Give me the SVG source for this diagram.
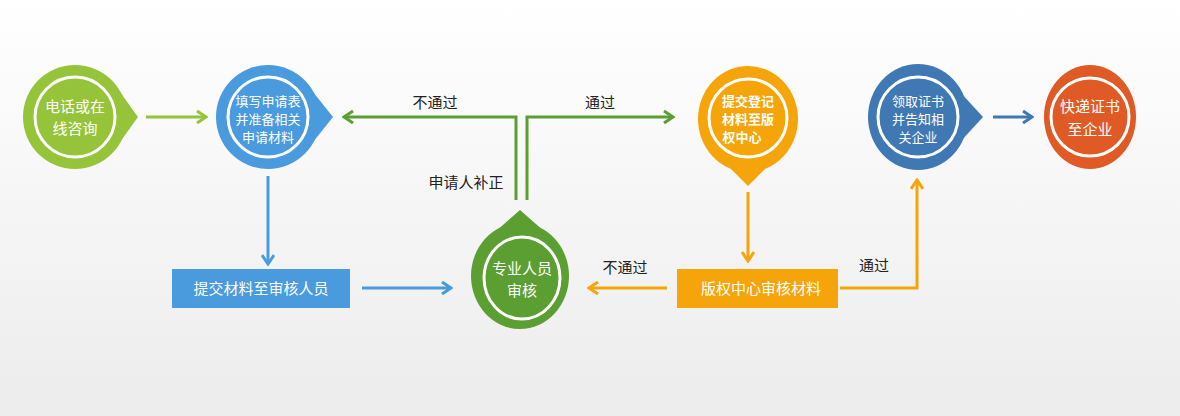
<svg xmlns="http://www.w3.org/2000/svg" width="1180" height="416" viewBox="0 0 1180 416">
<defs>
<linearGradient id="bg" x1="0" y1="0" x2="0" y2="1"><stop offset="0" stop-color="#ffffff"/><stop offset="1" stop-color="#ececec"/></linearGradient>
<marker id="mlg" markerWidth="12" markerHeight="14" refX="10" refY="7" orient="auto" markerUnits="userSpaceOnUse"><path d="M1,1 L10,7 L1,13" fill="none" stroke="#95c43a" stroke-width="3"/></marker>
<marker id="mg" markerWidth="12" markerHeight="14" refX="10" refY="7" orient="auto" markerUnits="userSpaceOnUse"><path d="M1,1 L10,7 L1,13" fill="none" stroke="#5b9e32" stroke-width="3"/></marker>
<marker id="mb" markerWidth="12" markerHeight="14" refX="10" refY="7" orient="auto" markerUnits="userSpaceOnUse"><path d="M1,1 L10,7 L1,13" fill="none" stroke="#4a9ade" stroke-width="3"/></marker>
<marker id="mo" markerWidth="12" markerHeight="14" refX="10" refY="7" orient="auto" markerUnits="userSpaceOnUse"><path d="M1,1 L10,7 L1,13" fill="none" stroke="#f5a50a" stroke-width="3"/></marker>
<marker id="md" markerWidth="12" markerHeight="14" refX="10" refY="7" orient="auto" markerUnits="userSpaceOnUse"><path d="M1,1 L10,7 L1,13" fill="none" stroke="#3f78b2" stroke-width="3"/></marker>
</defs>
<style>
.ring{fill:none;stroke:#fff;stroke-width:3}
.t{font-family:"Noto Sans CJK SC",sans-serif;fill:#fff;text-anchor:middle}
.lb{font-family:"Noto Sans CJK SC",sans-serif;fill:#222;font-size:15px;text-anchor:middle}
.c{fill:none;stroke-width:3}
</style>
<rect width="1180" height="416" fill="url(#bg)"/>
<g id="n1"><circle cx="75" cy="117" r="52" fill="#95c43a"/><path d="M120,92 L138,117 L120,142 Z" fill="#95c43a"/><circle class="ring" cx="75" cy="117" r="40"/><text class="t" font-size="15" x="75" y="112">电话或在</text><text class="t" font-size="15" x="75" y="134">线咨询</text></g>
<g id="n2"><circle cx="268" cy="117" r="52" fill="#4a9ade"/><path d="M313,92 L333,117 L313,142 Z" fill="#4a9ade"/><circle class="ring" cx="268" cy="117" r="40"/><text class="t" font-size="13" x="268" y="106">填写申请表</text><text class="t" font-size="13" x="268" y="124">并准备相关</text><text class="t" font-size="13" x="268" y="142">申请材料</text></g>
<g id="n3"><ellipse cx="520" cy="276" rx="49" ry="53" fill="#5b9e32"/><path d="M495,232 L520,210 L545,232 Z" fill="#5b9e32"/><ellipse class="ring" cx="522" cy="278" rx="38" ry="41"/><text class="t" font-size="15" x="522" y="274">专业人员</text><text class="t" font-size="15" x="522" y="296">审核</text></g>
<g id="n4"><ellipse cx="748" cy="119" rx="50" ry="53" fill="#f5a50a"/><path d="M722,160 L748,186 L774,160 Z" fill="#f5a50a"/><circle class="ring" cx="748" cy="118" r="39"/><text class="t" font-size="13" x="748" y="106" font-weight="bold">提交登记</text><text class="t" font-size="13" x="748" y="124" font-weight="bold">材料至版</text><text class="t" font-size="13" x="742" y="142" font-weight="bold">权中心</text></g>
<g id="n5"><ellipse cx="918" cy="117" rx="50" ry="53" fill="#3f78b2"/><path d="M960,92 L983,117 L960,142 Z" fill="#3f78b2"/><circle class="ring" cx="918" cy="117" r="40"/><text class="t" font-size="13" x="918" y="106">领取证书</text><text class="t" font-size="13" x="918" y="124">并告知相</text><text class="t" font-size="13" x="918" y="142">关企业</text></g>
<g id="n6"><ellipse cx="1090" cy="117" rx="46" ry="52" fill="#df5a25"/><circle class="ring" cx="1090" cy="117" r="39"/><text class="t" font-size="15" x="1090" y="112">快递证书</text><text class="t" font-size="15" x="1090" y="135">至企业</text></g>
<g id="r1"><rect x="172" y="269" width="178" height="39" fill="#4a9ade"/><text class="t" font-size="15" x="261" y="294">提交材料至审核人员</text></g>
<g id="r2"><rect x="677" y="269" width="161" height="39" fill="#f5a50a"/><text class="t" font-size="15" x="761" y="294">版权中心审核材料</text></g>
<g id="connectors">
<path class="c" d="M146,117 H206" stroke="#95c43a" marker-end="url(#mlg)"/>
<path class="c" d="M516,200 V117 H344" stroke="#5b9e32" marker-end="url(#mg)"/>
<path class="c" d="M527,200 V117 H673" stroke="#5b9e32" marker-end="url(#mg)"/>
<path class="c" d="M268,176 V264" stroke="#4a9ade" marker-end="url(#mb)"/>
<path class="c" d="M362,288 H451" stroke="#4a9ade" marker-end="url(#mb)"/>
<path class="c" d="M748,192 V261" stroke="#f5a50a" marker-end="url(#mo)"/>
<path class="c" d="M667,288 H589" stroke="#f5a50a" marker-end="url(#mo)"/>
<path class="c" d="M840,288 H917 V180" stroke="#f5a50a" marker-end="url(#mo)"/>
<path class="c" d="M993,117 H1032" stroke="#3f78b2" marker-end="url(#md)"/>
<text class="lb" x="435" y="108">不通过</text>
<text class="lb" x="600" y="108">通过</text>
<text class="lb" x="466" y="188">申请人补正</text>
<text class="lb" x="625" y="273">不通过</text>
<text class="lb" x="874" y="271">通过</text>
</g>
</svg>
